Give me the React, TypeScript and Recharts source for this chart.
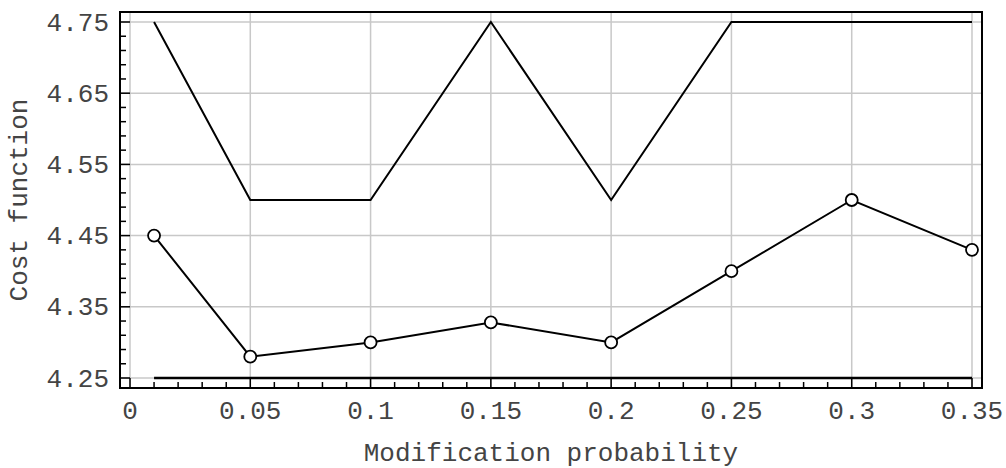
import React from "react";
import { LineChart, Line, XAxis, YAxis, CartesianGrid, ReferenceArea } from "recharts";

// values
const probabilities = [0.01, 0.05, 0.1, 0.15, 0.2, 0.25, 0.3, 0.35];
const upperCost = [4.75, 4.5, 4.5, 4.75, 4.5, 4.75, 4.75, 4.75];
const meanCost = [4.45, 4.28, 4.3, 4.328, 4.3, 4.4, 4.5, 4.43];
const lowerCost = [4.25, 4.25, 4.25, 4.25, 4.25, 4.25, 4.25, 4.25];

const xMajorTicks = [0, 0.05, 0.1, 0.15, 0.2, 0.25, 0.3, 0.35];
const xTickLabels = ["0", "0.05", "0.1", "0.15", "0.2", "0.25", "0.3", "0.35"];
const yMajorTicks = [4.25, 4.35, 4.45, 4.55, 4.65, 4.75];
const yTickLabels = ["4.25", "4.35", "4.45", "4.55", "4.65", "4.75"];

const xMinorTicks: number[] = [];
for (let i = 0; i <= 35; i++) xMinorTicks.push(+(i * 0.01).toFixed(2));
const yMinorTicks: number[] = [];
for (let i = 0; i <= 25; i++) yMinorTicks.push(+(4.25 + i * 0.02).toFixed(2));

const X_PAD = 0.004157;
const Y_PAD = 0.014045;
const xDomain: [number, number] = [0 - X_PAD, 0.35 + X_PAD];
const yDomain: [number, number] = [4.25 - Y_PAD, 4.75 + Y_PAD];

const data = probabilities.map((p, i) => ({
  p,
  upper: upperCost[i],
  mean: meanCost[i],
  lower: lowerCost[i],
}));

const FONT = "'Liberation Mono', 'Courier New', monospace";
const FONT_SIZE = 26;
const TEXT_COLOR = "#444";

const findIndex = (list: number[], v: number) =>
  list.findIndex((t) => Math.abs(t - v) < 1e-6);

const XTick = (props: any) => {
  const { x, y, payload } = props;
  const idx = findIndex(xMajorTicks, payload.value);
  const major = idx >= 0;
  return (
    <g>
      <line x1={x} y1={y} x2={x} y2={y - (major ? 10 : 6)} stroke="#000" strokeWidth={1.5} />
      {major && (
        <text
          x={x}
          y={y + 31}
          textAnchor="middle"
          fontFamily={FONT}
          fontSize={FONT_SIZE}
          fill={TEXT_COLOR}
        >
          {xTickLabels[idx]}
        </text>
      )}
    </g>
  );
};

const YTick = (props: any) => {
  const { x, y, payload } = props;
  const idx = findIndex(yMajorTicks, payload.value);
  const major = idx >= 0;
  return (
    <g>
      <line x1={x} y1={y} x2={x + (major ? 10 : 6)} y2={y} stroke="#000" strokeWidth={1.5} />
      {major && (
        <text
          x={x - 11}
          y={y}
          dy="0.33em"
          textAnchor="end"
          fontFamily={FONT}
          fontSize={FONT_SIZE}
          fill={TEXT_COLOR}
        >
          {yTickLabels[idx]}
        </text>
      )}
    </g>
  );
};

export default function App() {
  return (
    <div style={{ position: "absolute", left: 0, top: 0, background: "#fff" }}>
      <LineChart
        width={1006}
        height={468}
        data={data}
        margin={{ top: 12, right: 24, left: 0, bottom: 0 }}
      >
        <CartesianGrid
          stroke="#c8c8c8"
          strokeWidth={1.5}
          verticalValues={xMajorTicks}
          horizontalValues={yMajorTicks}
        />
        <XAxis
          dataKey="p"
          type="number"
          domain={xDomain}
          allowDataOverflow
          ticks={xMinorTicks}
          interval={0}
          height={80}
          tickSize={0}
          tickMargin={0}
          tickLine={false}
          axisLine={false}
          tick={<XTick />}
          label={{
            value: "Modification probability",
            position: "insideBottom",
            offset: 7,
            fontFamily: FONT,
            fontSize: FONT_SIZE,
            fill: TEXT_COLOR,
          }}
        />
        <YAxis
          type="number"
          domain={yDomain}
          allowDataOverflow
          ticks={yMinorTicks}
          interval={0}
          width={120}
          tickSize={0}
          tickMargin={0}
          tickLine={false}
          axisLine={false}
          tick={<YTick />}
          label={{
            value: "Cost function",
            angle: -90,
            position: "insideLeft",
            offset: 18,
            style: { textAnchor: "middle" },
            fontFamily: FONT,
            fontSize: FONT_SIZE,
            fill: TEXT_COLOR,
          }}
        />
        <ReferenceArea
          x1={xDomain[0]}
          x2={xDomain[1]}
          y1={yDomain[0]}
          y2={yDomain[1]}
          fill="none"
          fillOpacity={0}
          stroke="#000"
          strokeWidth={2}
        />
        <Line
          dataKey="upper"
          type="linear"
          stroke="#000"
          strokeWidth={2}
          dot={false}
          activeDot={false}
          isAnimationActive={false}
        />
        <Line
          dataKey="lower"
          type="linear"
          stroke="#000"
          strokeWidth={2.5}
          dot={false}
          activeDot={false}
          isAnimationActive={false}
        />
        <Line
          dataKey="mean"
          type="linear"
          stroke="#000"
          strokeWidth={2}
          dot={{ r: 6, fill: "#fff", stroke: "#000", strokeWidth: 1.8 }}
          activeDot={false}
          isAnimationActive={false}
        />
      </LineChart>
    </div>
  );
}
